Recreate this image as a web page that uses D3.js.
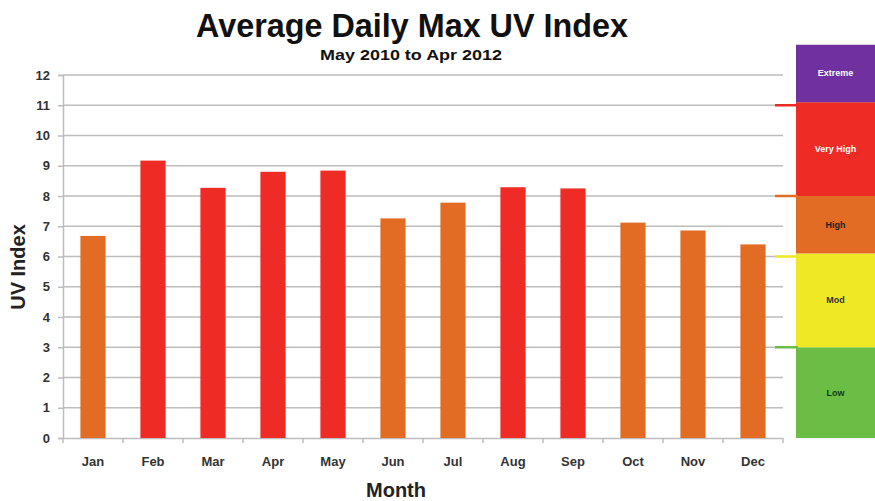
<!DOCTYPE html>
<html>
<head>
<meta charset="utf-8">
<script src="https://cdn.jsdelivr.net/npm/d3@7"></script>
<style>
  body { margin: 0; background: #fff; }
  svg { display: block; font-family: "Liberation Sans", Arial, sans-serif; }
</style>
</head>
<body>
<div id="chart"></div>
<script>
const months = ["Jan", "Feb", "Mar", "Apr", "May", "Jun", "Jul", "Aug", "Sep", "Oct", "Nov", "Dec"];
const uvValues = [6.68, 9.17, 8.27, 8.8, 8.84, 7.26, 7.78, 8.29, 8.25, 7.12, 6.86, 6.4];
const yTicks = [0, 1, 2, 3, 4, 5, 6, 7, 8, 9, 10, 11, 12];
const bandNames = ["Low", "Mod", "High", "Very High", "Extreme"];
const bandStarts = [0, 3, 6.1, 8, 11.1];
const bandEnds = [3, 6.1, 8, 11.1, 13];
const bandMarks = [3, 6, 8, 11];

const width = 875, height = 501;
const margin = { left: 63, right: 92, top: 75, bottom: 63 };
const bandColours = ["#6cbd45", "#efe825", "#e36c25", "#ee2b24", "#7030a0"];
const bandText = ["#0d3d17", "#333", "#222", "#fff", "#fff"];
const markColours = ["#6cbd45", "#efe825", "#e36c25", "#ee2b24"];

const svg = d3.select("#chart")
  .append("svg")
  .attr("width", width)
  .attr("height", height);

const x = d3.scaleBand()
  .domain(months)
  .range([margin.left, width - margin.right])
  .paddingInner(0.58)
  .paddingOuter(0.29);

const y = d3.scaleLinear()
  .domain([0, 12])
  .range([height - margin.bottom, margin.top]);

// gridlines
svg.append("g")
  .selectAll("line")
  .data(yTicks.slice(1))
  .enter()
  .append("line")
  .attr("x1", margin.left)
  .attr("x2", width - margin.right)
  .attr("y1", d => y(d))
  .attr("y2", d => y(d))
  .attr("stroke", "#bdbdbd")
  .attr("stroke-width", 1.5);

// y axis
const yAxis = svg.append("g")
  .attr("transform", `translate(${margin.left},0)`)
  .call(d3.axisLeft(y).tickValues(yTicks).tickSize(5).tickPadding(8));
yAxis.select(".domain").attr("stroke", "#bdbdbd").attr("stroke-width", 1.5);
yAxis.selectAll(".tick line").attr("stroke", "#bdbdbd").attr("stroke-width", 1.5);
yAxis.selectAll("text")
  .attr("font-size", 13)
  .attr("font-weight", "bold")
  .attr("fill", "#333");

// x axis
const xAxis = svg.append("g")
  .attr("transform", `translate(0,${y(0)})`)
  .call(d3.axisBottom(x).tickSize(0).tickPadding(19));
xAxis.select(".domain").attr("stroke", "#bdbdbd").attr("stroke-width", 1.5);
xAxis.selectAll("text")
  .attr("font-size", 13)
  .attr("font-weight", "bold")
  .attr("fill", "#333");

// tick marks between categories
const step = x.step();
svg.append("g")
  .selectAll("line")
  .data(months.concat(["end"]))
  .enter()
  .append("line")
  .attr("x1", (d, i) => margin.left + i * step)
  .attr("x2", (d, i) => margin.left + i * step)
  .attr("y1", y(0))
  .attr("y2", y(0) + 5)
  .attr("stroke", "#bdbdbd")
  .attr("stroke-width", 1.5);

// bars, coloured by UV band
const bandOf = v => bandStarts.filter(s => v >= s).length - 1;
svg.append("g")
  .selectAll("rect")
  .data(uvValues)
  .enter()
  .append("rect")
  .attr("x", (d, i) => x(months[i]))
  .attr("width", x.bandwidth())
  .attr("y", d => y(d))
  .attr("height", d => y(0) - y(d))
  .attr("fill", d => bandColours[bandOf(d)]);

// band panel on the right
const panelX = 796, panelW = width - panelX;
const panel = svg.append("g");
panel.selectAll("rect")
  .data(bandNames)
  .enter()
  .append("rect")
  .attr("x", panelX)
  .attr("width", panelW)
  .attr("y", (d, i) => y(bandEnds[i]))
  .attr("height", (d, i) => y(bandStarts[i]) - y(bandEnds[i]))
  .attr("fill", (d, i) => bandColours[i]);
panel.selectAll("text")
  .data(bandNames)
  .enter()
  .append("text")
  .attr("x", panelX + panelW / 2)
  .attr("y", (d, i) => (y(bandStarts[i]) + y(bandEnds[i])) / 2 + 3)
  .attr("text-anchor", "middle")
  .attr("font-size", 9)
  .attr("font-weight", "bold")
  .attr("fill", (d, i) => bandText[i])
  .text(d => d);

// coloured marks at the band limits
svg.append("g")
  .selectAll("line")
  .data(bandMarks)
  .enter()
  .append("line")
  .attr("x1", 775)
  .attr("x2", panelX + 2)
  .attr("y1", d => y(d))
  .attr("y2", d => y(d))
  .attr("stroke", (d, i) => markColours[i])
  .attr("stroke-width", 2.5);

// titles
svg.append("text")
  .attr("x", 412)
  .attr("y", 37)
  .attr("text-anchor", "middle")
  .attr("font-size", 34)
  .attr("font-weight", "bold")
  .attr("textLength", 432)
  .attr("lengthAdjust", "spacingAndGlyphs")
  .attr("fill", "#111")
  .text("Average Daily Max UV Index");

svg.append("text")
  .attr("x", 411)
  .attr("y", 60)
  .attr("text-anchor", "middle")
  .attr("font-size", 15)
  .attr("font-weight", "bold")
  .attr("textLength", 182)
  .attr("lengthAdjust", "spacingAndGlyphs")
  .attr("fill", "#111")
  .text("May 2010 to Apr 2012");

svg.append("text")
  .attr("transform", "translate(25,267) rotate(-90)")
  .attr("text-anchor", "middle")
  .attr("font-size", 20)
  .attr("font-weight", "bold")
  .attr("fill", "#222")
  .text("UV Index");

svg.append("text")
  .attr("x", 396)
  .attr("y", 497)
  .attr("text-anchor", "middle")
  .attr("font-size", 20)
  .attr("font-weight", "bold")
  .attr("fill", "#222")
  .text("Month");
</script>
</body>
</html>
